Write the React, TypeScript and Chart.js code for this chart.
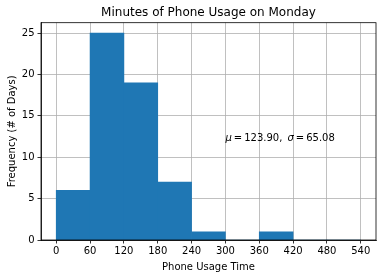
import React, { useEffect, useRef } from 'react';
import { Chart, registerables } from 'chart.js';

Chart.register(...registerables);

const binCenters = [30, 90, 150, 210, 270, 330, 390, 450, 510];
const frequencies = [6, 25, 19, 7, 1, 0, 1, 0, 0];
const xTicks = [0, 60, 120, 180, 240, 300, 360, 420, 480, 540];
const yTicks = [0, 5, 10, 15, 20, 25];
const meanValue = '123.90';
const stdValue = '65.08';
const annotationPos = [300, 12];

const FONT = "'DejaVu Sans', sans-serif";

const framePlugin = {
  id: 'frame',
  afterDraw(chart: any) {
    const { ctx, chartArea } = chart;
    ctx.save();
    ctx.strokeStyle = '#000';
    ctx.lineWidth = 0.8;
    ctx.strokeRect(chartArea.left, chartArea.top, chartArea.right - chartArea.left, chartArea.bottom - chartArea.top);
    ctx.restore();
  },
};

const annotationPlugin = {
  id: 'stats',
  afterDatasetsDraw(chart: any) {
    const { ctx, scales } = chart;
    let x = scales.x.getPixelForValue(annotationPos[0]);
    const y = scales.y.getPixelForValue(annotationPos[1]);
    const parts: [string, boolean][] = [
      ['μ', true],
      ['\u2009=\u2009' + meanValue + ', \u2009', false],
      ['σ', true],
      ['\u2009=\u2009' + stdValue, false],
    ];
    ctx.save();
    ctx.fillStyle = '#000';
    ctx.textBaseline = 'alphabetic';
    ctx.textAlign = 'left';
    for (const [t, it] of parts) {
      ctx.font = (it ? 'italic ' : '') + '10px ' + FONT;
      ctx.fillText(t, x, y);
      x += ctx.measureText(t).width;
    }
    ctx.restore();
  },
};

export default function App() {
  const ref = useRef<HTMLCanvasElement>(null);
  useEffect(() => {
    const chart = new Chart(ref.current as HTMLCanvasElement, {
      type: 'bar',
      data: {
        datasets: [
          {
            data: binCenters.map((x, i) => ({ x, y: frequencies[i] })),
            backgroundColor: '#1f77b4',
            borderWidth: 0,
            barPercentage: 1,
            categoryPercentage: 1,
            grouped: false,
          } as any,
        ],
      },
      options: {
        animation: false,
        responsive: false,
        maintainAspectRatio: false,
        layout: { padding: { left: 0, right: 10, top: 0, bottom: 0 } },
        plugins: {
          legend: { display: false },
          tooltip: { enabled: false },
          title: {
            display: true,
            fullSize: false,
            text: 'Minutes of Phone Usage on Monday',
            color: '#000',
            font: { family: FONT, size: 12, weight: 'normal' },
            padding: { top: 6, bottom: 2.3 },
          },
        },
        scales: {
          x: {
            type: 'linear',
            min: -27,
            max: 567,
            offset: false,
            z: 1,
            afterBuildTicks: (s: any) => {
              s.ticks = xTicks.map((v) => ({ value: v }));
            },
            afterFit: (s: any) => {
              s.height = 38;
            },
            grid: { color: '#b0b0b0', lineWidth: 0.8, tickColor: '#000', tickLength: 3.5, offset: false },
            border: { display: true, color: '#000', width: 0.8 },
            ticks: { color: '#000', font: { family: FONT, size: 10 }, padding: 2, maxRotation: 0, autoSkip: false },
            title: { display: true, text: 'Phone Usage Time', color: '#000', font: { family: FONT, size: 10 }, padding: { top: 0, bottom: 5 } },
          },
          y: {
            type: 'linear',
            min: 0,
            max: 26.25,
            z: 1,
            afterBuildTicks: (s: any) => {
              s.ticks = yTicks.map((v) => ({ value: v }));
            },
            afterFit: (s: any) => {
              s.width = 41;
            },
            grid: { color: '#b0b0b0', lineWidth: 0.8, tickColor: '#000', tickLength: 3.5 },
            border: { display: true, color: '#000', width: 0.8 },
            ticks: { color: '#000', font: { family: FONT, size: 10 }, padding: 3 },
            title: { display: true, text: 'Frequency (# of Days)', color: '#000', font: { family: FONT, size: 10 }, padding: { top: 6, bottom: 0 } },
          },
        },
      } as any,
      plugins: [annotationPlugin, framePlugin],
    });
    return () => chart.destroy();
  }, []);
  return (
    <div style={{ position: 'absolute', left: 0, top: 0, width: 386, height: 278 }}>
      <canvas ref={ref} width={386} height={278} style={{ display: 'block' }} />
    </div>
  );
}
